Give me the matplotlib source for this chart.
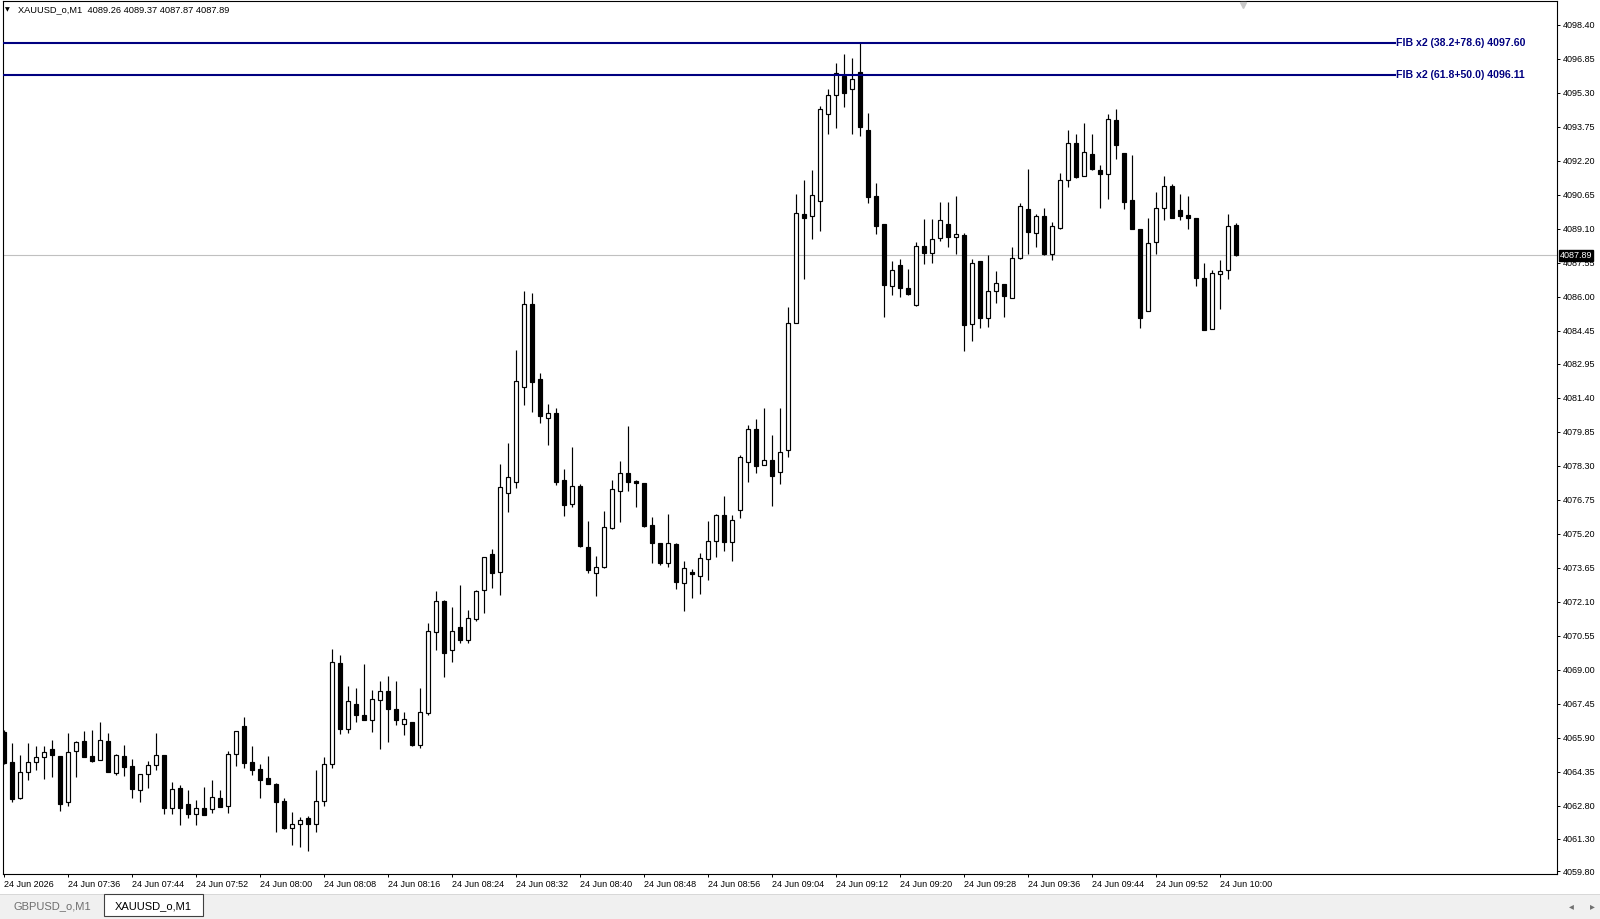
import matplotlib
matplotlib.use("Agg")
import matplotlib.pyplot as plt
from matplotlib.patches import Rectangle
import numpy as np

plt.rcParams['font.family'] = ['Liberation Sans', 'DejaVu Sans']

# XAUUSD_o M1 candles, 24 Jun 07:28 .. 10:02
opens = [4066.16, 4064.79, 4063.13, 4064.33, 4064.79, 4065.02, 4065.38, 4065.06, 4062.95, 4065.31,
         4065.75, 4065.06, 4064.89, 4065.75, 4064.30, 4065.06, 4064.60, 4063.52, 4064.24, 4064.64,
         4065.11, 4062.68, 4063.59, 4062.87, 4062.40, 4062.68, 4062.63, 4063.13, 4062.77, 4065.14,
         4066.44, 4064.79, 4064.47, 4064.05, 4063.80, 4063.01, 4061.79, 4061.95, 4062.22, 4061.95,
         4063.01, 4064.70, 4069.30, 4066.28, 4067.43, 4066.92, 4066.69, 4067.61, 4068.02, 4067.20,
         4066.54, 4066.62, 4065.55, 4067.04, 4070.74, 4072.14, 4069.89, 4070.96, 4070.35, 4071.31,
         4072.63, 4074.28, 4073.44, 4077.06, 4077.55, 4081.89, 4085.69, 4082.24, 4080.49, 4080.72,
         4077.63, 4076.56, 4077.40, 4074.61, 4073.41, 4073.67, 4075.45, 4077.14, 4077.99, 4077.62,
         4077.52, 4075.61, 4074.78, 4073.85, 4074.75, 4072.95, 4073.47, 4073.26, 4074.04, 4074.85,
         4076.06, 4074.81, 4076.28, 4078.48, 4079.98, 4078.34, 4078.57, 4078.00, 4079.00, 4084.82,
         4089.77, 4089.68, 4090.39, 4094.32, 4095.23, 4096.07, 4095.46, 4096.24, 4093.60, 4090.59,
         4089.31, 4086.50, 4087.47, 4086.40, 4085.61, 4088.32, 4088.00, 4088.70, 4089.34, 4088.73,
         4088.84, 4084.77, 4087.62, 4085.03, 4086.26, 4086.61, 4085.96, 4087.77, 4089.99, 4088.93,
         4089.67, 4087.97, 4089.14, 4091.32, 4093.04, 4091.50, 4092.53, 4091.80, 4091.59, 4094.09,
         4092.58, 4090.40, 4089.11, 4085.34, 4088.50, 4090.07, 4091.07, 4089.95, 4089.72, 4089.60,
         4086.88, 4084.55, 4087.03, 4087.24, 4089.26]
highs = [4066.25, 4065.66, 4065.11, 4065.66, 4065.52, 4065.52, 4065.79, 4065.06, 4066.10, 4065.75,
         4066.22, 4066.25, 4066.61, 4066.11, 4065.17, 4065.56, 4064.91, 4064.24, 4064.83, 4066.13,
         4065.11, 4063.88, 4063.74, 4063.51, 4063.06, 4063.65, 4063.97, 4063.51, 4065.29, 4066.21,
         4066.85, 4065.52, 4064.69, 4065.07, 4063.85, 4063.16, 4062.51, 4062.28, 4062.33, 4064.41,
         4065.00, 4069.94, 4069.66, 4068.26, 4068.16, 4069.25, 4068.06, 4068.49, 4068.72, 4068.49,
         4067.07, 4066.62, 4068.19, 4071.11, 4072.60, 4072.19, 4071.87, 4072.87, 4071.72, 4072.65,
         4074.16, 4074.49, 4078.36, 4079.32, 4083.56, 4086.26, 4086.20, 4082.54, 4081.13, 4080.92,
         4078.16, 4079.15, 4077.45, 4075.77, 4074.20, 4076.26, 4077.66, 4078.50, 4080.11, 4077.67,
         4077.52, 4075.98, 4074.78, 4076.10, 4074.79, 4073.97, 4073.59, 4074.32, 4075.80, 4076.10,
         4076.94, 4076.06, 4078.77, 4080.14, 4080.44, 4080.94, 4079.72, 4080.94, 4085.54, 4090.68,
         4091.35, 4091.81, 4094.70, 4095.46, 4096.69, 4097.10, 4096.88, 4097.60, 4094.41, 4091.21,
         4089.31, 4087.62, 4087.71, 4087.26, 4088.49, 4089.57, 4089.54, 4090.33, 4090.33, 4090.59,
         4088.93, 4087.71, 4087.62, 4087.89, 4087.16, 4086.61, 4088.27, 4090.28, 4091.85, 4089.80,
         4090.05, 4089.41, 4091.65, 4093.63, 4093.45, 4093.95, 4093.42, 4092.03, 4094.32, 4094.59,
         4092.58, 4092.46, 4089.11, 4089.61, 4090.77, 4091.50, 4091.13, 4090.68, 4090.59, 4089.60,
         4087.55, 4087.24, 4087.70, 4089.76, 4089.37]
lows = [4064.70, 4062.98, 4063.10, 4063.95, 4064.44, 4064.03, 4064.12, 4062.58, 4062.79, 4064.12,
        4065.00, 4064.80, 4064.87, 4064.33, 4064.22, 4064.15, 4063.16, 4062.98, 4063.59, 4064.41,
        4062.43, 4062.40, 4061.90, 4062.25, 4061.90, 4062.36, 4062.48, 4062.73, 4062.48, 4064.61,
        4064.53, 4064.20, 4063.16, 4063.77, 4061.61, 4061.72, 4061.00, 4060.90, 4060.75, 4061.61,
        4062.80, 4064.50, 4066.09, 4066.13, 4066.63, 4066.69, 4066.18, 4065.40, 4065.70, 4066.47,
        4066.01, 4065.50, 4065.45, 4066.94, 4069.91, 4068.67, 4069.37, 4070.24, 4070.24, 4071.20,
        4071.60, 4072.73, 4072.41, 4076.18, 4077.29, 4081.05, 4080.75, 4080.25, 4079.23, 4077.44,
        4076.00, 4076.41, 4074.58, 4073.40, 4072.36, 4073.64, 4075.42, 4075.72, 4077.14, 4076.41,
        4075.49, 4073.89, 4073.77, 4073.67, 4072.68, 4071.69, 4072.25, 4072.45, 4073.10, 4074.12,
        4074.40, 4073.97, 4075.92, 4077.55, 4077.96, 4078.34, 4076.45, 4077.47, 4078.70, 4084.80,
        4086.83, 4088.66, 4089.01, 4093.45, 4093.71, 4094.64, 4093.41, 4093.35, 4090.29, 4088.89,
        4085.08, 4086.07, 4085.99, 4086.10, 4085.57, 4087.52, 4087.54, 4088.53, 4088.27, 4087.94,
        4083.55, 4084.01, 4084.57, 4084.62, 4085.72, 4085.08, 4085.96, 4087.74, 4087.94, 4088.27,
        4087.89, 4087.69, 4089.11, 4091.01, 4091.42, 4091.50, 4091.80, 4090.07, 4090.46, 4092.31,
        4090.02, 4089.11, 4084.57, 4085.34, 4087.97, 4089.52, 4089.60, 4089.52, 4089.08, 4086.49,
        4084.47, 4084.55, 4085.46, 4086.83, 4087.87]
closes = [4064.76, 4063.11, 4064.33, 4064.79, 4065.02, 4065.27, 4065.09, 4062.88, 4065.27, 4065.70,
          4065.03, 4064.83, 4065.78, 4064.35, 4065.11, 4064.57, 4063.57, 4064.24, 4064.65, 4065.11,
          4062.70, 4063.54, 4062.71, 4062.40, 4062.68, 4062.36, 4063.19, 4062.75, 4065.14, 4066.21,
          4064.76, 4064.41, 4063.98, 4063.77, 4062.98, 4061.79, 4061.95, 4062.17, 4061.95, 4063.01,
          4064.70, 4069.36, 4066.28, 4067.58, 4066.92, 4066.72, 4067.65, 4068.02, 4067.23, 4066.69,
          4066.74, 4065.55, 4067.07, 4070.77, 4072.13, 4069.78, 4070.76, 4070.36, 4071.35, 4072.60,
          4074.16, 4073.40, 4077.35, 4077.78, 4082.15, 4085.66, 4082.12, 4080.57, 4080.72, 4077.54,
          4076.53, 4077.40, 4074.63, 4073.55, 4073.70, 4075.50, 4077.25, 4077.96, 4077.55, 4077.52,
          4075.57, 4074.76, 4073.85, 4074.78, 4072.98, 4073.64, 4073.35, 4074.09, 4074.87, 4076.06,
          4074.81, 4075.83, 4078.69, 4079.98, 4078.28, 4078.57, 4077.84, 4078.93, 4084.82, 4089.81,
          4089.62, 4090.67, 4094.55, 4095.23, 4096.19, 4095.28, 4095.96, 4093.73, 4090.56, 4089.24,
          4086.53, 4087.21, 4086.42, 4086.15, 4088.32, 4088.00, 4088.65, 4089.49, 4088.73, 4088.88,
          4084.73, 4087.56, 4085.03, 4086.25, 4086.64, 4086.04, 4087.79, 4090.16, 4088.96, 4089.67,
          4087.94, 4089.22, 4091.35, 4093.04, 4091.47, 4092.61, 4091.85, 4091.62, 4094.13, 4092.95,
          4090.33, 4089.11, 4085.03, 4088.47, 4090.07, 4091.07, 4089.60, 4089.69, 4089.60, 4086.86,
          4084.47, 4087.11, 4087.18, 4089.24, 4087.89]

time_labels = ["24 Jun 2026", "24 Jun 07:36", "24 Jun 07:44", "24 Jun 07:52", "24 Jun 08:00",
               "24 Jun 08:08", "24 Jun 08:16", "24 Jun 08:24", "24 Jun 08:32", "24 Jun 08:40",
               "24 Jun 08:48", "24 Jun 08:56", "24 Jun 09:04", "24 Jun 09:12", "24 Jun 09:20",
               "24 Jun 09:28", "24 Jun 09:36", "24 Jun 09:44", "24 Jun 09:52", "24 Jun 10:00"]
price_labels = ["4098.40", "4096.85", "4095.30", "4093.75", "4092.20", "4090.65", "4089.10",
                "4087.55", "4086.00", "4084.45", "4082.95", "4081.40", "4079.85", "4078.30",
                "4076.75", "4075.20", "4073.65", "4072.10", "4070.55", "4069.00", "4067.45",
                "4065.90", "4064.35", "4062.80", "4061.30", "4059.80"]
fib_levels = [4097.60, 4096.11]
fib_names = ["FIB x2 (38.2+78.6) 4097.60", "FIB x2 (61.8+50.0) 4096.11"]
last_price = 4087.89
header = "XAUUSD_o,M1  4089.26 4089.37 4087.87 4087.89"

o = np.array(opens); h = np.array(highs); l = np.array(lows); c = np.array(closes)
x = np.arange(len(o))

W, H = 1600, 919
fig = plt.figure(figsize=(W / 100, H / 100), dpi=100)
fig.patch.set_facecolor('white')
ax = fig.add_axes([3 / W, 45 / H, 1554 / W, 873 / H])

ppx = 21.93  # pixels per price unit
ax.set_ylim(4098.40 - (874 - 25) / ppx, 4098.40 + (25 - 1) / ppx)
ax.set_xlim(-0.125, 194.125)

ax.axhline(last_price, color='#c0c0c0', lw=0.8, zorder=1)

# candles
ax.vlines(x, l, h, color='black', lw=0.85, zorder=2)
up = c >= o
body_lo = np.minimum(o, c)
body_h = np.maximum(np.abs(c - o), 0.04)
ax.bar(x[up], body_h[up], bottom=body_lo[up], width=0.5, color='white',
       edgecolor='black', linewidth=0.85, zorder=3)
ax.bar(x[~up], body_h[~up], bottom=body_lo[~up], width=0.55, color='black',
       edgecolor='black', linewidth=0.85, zorder=3)

# fib lines
fib_end = (1396 - 4) / 8
for lev, name in zip(fib_levels, fib_names):
    ax.hlines(lev, -0.125, fib_end, color='#000080', lw=1.5, zorder=4)
    ax.text(fib_end, lev, name, color='#000080', fontsize=7.6, fontweight='bold',
            ha='left', va='center', zorder=5)

# shift marker
ax.plot([154.9], [4098.40 + (25 - 5) / ppx], marker='v', ms=5, color='#c8c8c8',
        clip_on=False, zorder=6)

for s in ax.spines.values():
    s.set_color('black')
    s.set_linewidth(0.8)

ax.yaxis.tick_right()
ax.set_yticks([float(v) for v in price_labels])
ax.set_yticklabels(price_labels)
ax.tick_params(axis='y', length=2.5, width=0.7, pad=1.5, labelsize=6.5, colors='black')
ax.set_xticks(np.arange(0, 160, 8))
ax.set_xticklabels(time_labels)
ax.tick_params(axis='x', length=2.5, width=0.7, pad=1.5, labelsize=6.5, colors='black')
for t in ax.get_xticklabels():
    t.set_ha('left')

# current price box
ax.annotate(f"{last_price:.2f}", xy=(1.0, last_price), xycoords=('axes fraction', 'data'),
            xytext=(2, 0), textcoords='offset points', ha='left', va='center',
            fontsize=6.5, color='white', zorder=10,
            bbox=dict(boxstyle='square,pad=0.12', fc='black', ec='black'))

# header
fig.text(7 / W, 1 - 10 / H, "\u25bc", family='DejaVu Sans', fontsize=4.5, ha='center', va='center')
fig.text(18 / W, 1 - 10 / H, header, fontsize=6.7, ha='left', va='center')

# tab bar
fig.patches.append(Rectangle((0, 0), 1, 24 / H, transform=fig.transFigure,
                             fc='#f0f0f0', ec='none', zorder=0))
fig.patches.append(Rectangle((0, 24 / H), 1, 1 / H, transform=fig.transFigure,
                             fc='#d8d8d8', ec='none', zorder=0))
fig.patches.append(Rectangle((104 / W, 3 / H), 99 / W, 22 / H, transform=fig.transFigure,
                             fc='white', ec='#404040', lw=0.8, zorder=1))
fig.text(52 / W, 13 / H, "GBPUSD_o,M1", fontsize=8, color='#6e6e6e', ha='center', va='center')
fig.text(153 / W, 13 / H, "XAUUSD_o,M1", fontsize=8, color='black', ha='center', va='center')
fig.text(1571 / W, 13 / H, "\u25c2", family='DejaVu Sans', fontsize=7, color='#707070',
         ha='center', va='center')
fig.text(1592 / W, 13 / H, "\u25b8", family='DejaVu Sans', fontsize=7, color='#707070',
         ha='center', va='center')

fig.savefig("out.png", dpi=100)
